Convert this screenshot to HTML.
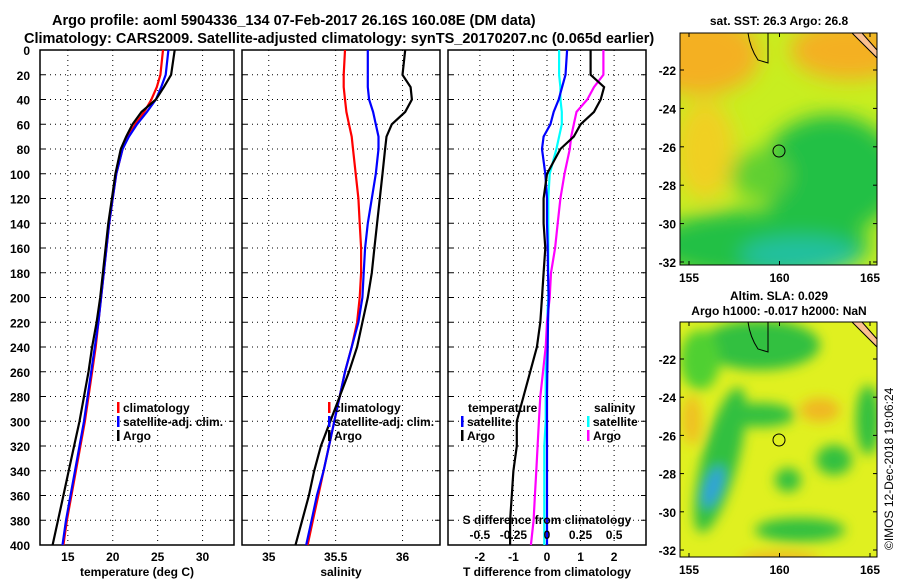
<!DOCTYPE html>
<html><head><meta charset="utf-8">
<style>
body{margin:0;background:#fff;}
svg text{font-family:"Liberation Sans",sans-serif;font-weight:bold;fill:#000;}
</style></head>
<body>
<svg id="fig" width="900" height="580" viewBox="0 0 900 580" xmlns="http://www.w3.org/2000/svg">
<defs>
<filter id="blur1" x="-50%" y="-50%" width="200%" height="200%"><feGaussianBlur stdDeviation="10"/></filter>
<filter id="blur2" x="-50%" y="-50%" width="200%" height="200%"><feGaussianBlur stdDeviation="6"/></filter>
<clipPath id="cm1"><rect x="680" y="33" width="197" height="232"/></clipPath>
<clipPath id="cm2"><rect x="680" y="322" width="197" height="235"/></clipPath>
</defs>
<text x="52" y="25" font-size="14.5">Argo profile: aoml 5904336_134 07-Feb-2017 26.16S 160.08E (DM data)</text>
<text x="24" y="43" font-size="14.5">Climatology: CARS2009. Satellite-adjusted climatology: synTS_20170207.nc (0.065d earlier)</text>

<g id="g1"></g>
<g id="g2"></g>
<g id="g3"></g>

<!-- SST map -->
<g clip-path="url(#cm1)">
<rect x="680" y="33" width="197" height="232" fill="#c8ee20"/>
<g filter="url(#blur1)">
<ellipse cx="700" cy="55" rx="60" ry="40" fill="#f4b020"/>
<ellipse cx="850" cy="50" rx="60" ry="30" fill="#f4b020"/>
<ellipse cx="705" cy="150" rx="30" ry="50" fill="#f0d020"/>
<ellipse cx="830" cy="175" rx="70" ry="60" fill="#22c044"/>
<ellipse cx="760" cy="245" rx="110" ry="35" fill="#22c044"/>
<ellipse cx="800" cy="255" rx="60" ry="18" fill="#20c0a0"/>
<ellipse cx="760" cy="175" rx="30" ry="25" fill="#60d030"/>
</g>
<circle cx="779" cy="151" r="6" fill="none" stroke="#000"/>
<path d="M748 33 Q750 48 758 60 L768 63 Q768 50 768 33" fill="none" stroke="#000" stroke-width="1"/>
<path d="M852 33 L877 58 L877 50 L862 33Z" fill="#fbc090" stroke="#000"/>
</g>
<rect x="680" y="33" width="197" height="232" fill="none" stroke="#000"/>

<!-- SLA map -->
<g clip-path="url(#cm2)">
<rect x="680" y="322" width="197" height="235" fill="#e0f020"/>
<g filter="url(#blur2)">
<ellipse cx="760" cy="345" rx="60" ry="25" fill="#30c040"/>
<ellipse cx="700" cy="360" rx="20" ry="30" fill="#50d030"/>
<ellipse cx="720" cy="460" rx="18" ry="75" fill="#30c040" transform="rotate(15 720 460)"/>
<ellipse cx="713" cy="487" rx="8" ry="22" fill="#30a0e0" transform="rotate(20 713 487)"/>
<ellipse cx="760" cy="415" rx="35" ry="12" fill="#30c040"/>
<ellipse cx="834" cy="460" rx="18" ry="15" fill="#30c040"/>
<ellipse cx="788" cy="480" rx="13" ry="12" fill="#30c040"/>
<ellipse cx="800" cy="530" rx="45" ry="12" fill="#30c040"/>
<ellipse cx="868" cy="420" rx="12" ry="35" fill="#30c040"/>
<ellipse cx="820" cy="410" rx="20" ry="12" fill="#f0b820"/>
<ellipse cx="692" cy="420" rx="10" ry="25" fill="#f0c020"/>
<ellipse cx="780" cy="560" rx="40" ry="8" fill="#f0b820"/>
</g>
<circle cx="779" cy="440" r="6" fill="none" stroke="#000"/>
<path d="M748 322 Q750 337 758 349 L768 352 Q768 339 768 322" fill="none" stroke="#000"/>
<path d="M852 322 L877 347 L877 339 L862 322Z" fill="#fbc090" stroke="#000"/>
</g>
<rect x="680" y="322" width="197" height="235" fill="none" stroke="#000"/>

<text x="779" y="25" font-size="12" text-anchor="middle">sat. SST: 26.3 Argo: 26.8</text>
<text x="779" y="300" font-size="12" text-anchor="middle">Altim. SLA: 0.029</text>
<text x="779" y="315" font-size="12" text-anchor="middle">Argo h1000: -0.017 h2000: NaN</text>
<text x="893" y="550" font-size="12" transform="rotate(-90 893 550)" style="font-weight:normal">©IMOS 12-Dec-2018 19:06:24</text>
<g id="maxes"></g>
</svg>
<script>
// ---- data ----
const depths = [0,20,30,40,50,60,70,80,100,120,140,160,180,200,220,240,260,280,300,320,340,360,380,400];
const tempArgo = [26.9,26.5,25.7,24.8,23.2,22.2,21.5,20.9,20.3,19.9,19.5,19.2,18.9,18.6,18.2,17.7,17.3,16.8,16.3,15.7,15.1,14.5,13.9,13.3];
const tempClim = [25.6,25.3,24.9,24.3,23.5,22.5,21.7,21.1,20.4,20.0,19.6,19.3,19.0,18.7,18.4,18.1,17.7,17.3,16.9,16.4,15.9,15.4,14.9,14.5];
const tempSat  = [26.2,25.9,25.4,24.8,23.8,22.7,21.8,21.1,20.4,20.0,19.6,19.3,19.0,18.7,18.4,18.0,17.6,17.2,16.8,16.3,15.8,15.3,14.8,14.4];
const salArgo = [36.02,36.0,36.06,36.07,36.02,35.92,35.88,35.87,35.85,35.83,35.81,35.79,35.77,35.74,35.7,35.66,35.6,35.53,35.46,35.39,35.34,35.3,35.25,35.2];
const salClim = [35.57,35.56,35.56,35.57,35.58,35.6,35.62,35.63,35.65,35.67,35.68,35.69,35.69,35.68,35.66,35.62,35.57,35.53,35.49,35.45,35.41,35.37,35.33,35.29];
const salSat  = [35.74,35.74,35.74,35.75,35.78,35.8,35.82,35.82,35.8,35.77,35.74,35.72,35.71,35.7,35.67,35.62,35.57,35.53,35.49,35.45,35.41,35.36,35.32,35.28];
const tdiffArgo = [1.3,1.3,1.7,1.6,1.4,1.0,0.8,0.4,0.0,-0.1,-0.1,-0.05,-0.1,-0.15,-0.2,-0.3,-0.5,-0.7,-0.9,-0.9,-1.0,-1.05,-1.1,-1.1];
const tdiffSat = [0.6,0.55,0.45,0.35,0.2,0.1,-0.1,-0.15,-0.05,0,0,0.02,0.03,0.05,0.03,0.02,0.01,0,0,0,0,0,0,0];
const sdiffArgo = [0.42,0.42,0.35,0.3,0.22,0.2,0.18,0.17,0.13,0.1,0.08,0.06,0.03,0.02,0,-0.01,-0.03,-0.05,-0.06,-0.07,-0.08,-0.09,-0.1,-0.12];
const sdiffSat = [0.09,0.09,0.1,0.1,0.11,0.11,0.09,0.07,0.02,0.01,0.01,0.01,0.01,0.01,0,0,-0.01,-0.01,-0.01,-0.02,-0.02,-0.02,-0.02,-0.02];
const depthTicks = [0,20,40,60,80,100,120,140,160,180,200,220,240,260,280,300,320,340,360,380,400];
const tempTicks = [15,20,25,30];
const salTicks = [35,35.5,36];
const tdTicks = [-2,-1,0,1,2];
const sdTicks = [-0.5,-0.25,0,0.25,0.5];
const lonTicks = [155,160,165];
const latTicks = [-22,-24,-26,-28,-30,-32];

const NS='http://www.w3.org/2000/svg';
function mk(tag,attrs,parent,txt){const e=document.createElementNS(NS,tag);for(const k in attrs)e.setAttribute(k,attrs[k]);if(txt!==undefined)e.textContent=txt;parent.appendChild(e);return e;}
const Y0=50,Y1=545;
const yS=d=>Y0+(d/400)*(Y1-Y0);

function panel(g,x0,x1,dom,ticks,fmt,xlabel,showY){
  const xS=v=>x0+(v-dom[0])/(dom[1]-dom[0])*(x1-x0);
  depthTicks.forEach(d=>{
    if(d>0&&d<400){const l=mk('line',{x1:x0,x2:x1,y1:yS(d),y2:yS(d),stroke:'#000','stroke-dasharray':'1,4','stroke-width':1},g);}
    mk('line',{x1:x0,x2:x0+5,y1:yS(d),y2:yS(d),stroke:'#000'},g);
    mk('line',{x1:x1,x2:x1-5,y1:yS(d),y2:yS(d),stroke:'#000'},g);
    if(showY){const t=mk('text',{x:x0-10,y:yS(d)+5,'font-size':12,'text-anchor':'end'},g,String(d));}
  });
  ticks.forEach(v=>{
    const l=mk('line',{x1:xS(v),x2:xS(v),y1:Y0,y2:Y1,stroke:'#000','stroke-dasharray':'1,4'},g);
    
    const t=mk('text',{x:xS(v),y:Y1+16,'font-size':12,'text-anchor':'middle'},g,fmt(v));
    
  });
  const r=mk('rect',{x:x0,y:Y0,width:x1-x0,height:Y1-Y0,fill:'none',stroke:'#000','stroke-width':1.5},g);
  
  const xl=mk('text',{x:(x0+x1)/2,y:576,'font-size':12,'text-anchor':'middle'},g,xlabel);
  
  return xS;
}
function line(g,xS,vals,color,name,w){
  const pts=vals.map((v,i)=>xS(v).toFixed(1)+','+yS(depths[i]).toFixed(1)).join(' ');
  const p=mk('polyline',{points:pts,fill:'none',stroke:color,'stroke-width':w||2.2},g);
  
}
function legend(g,x,y,color,label,name){
  mk('rect',{x:x,y:y-10,width:2.5,height:11,fill:color},g);
  const t=mk('text',{x:x+6,y:y,'font-size':12},g,label);
  
}
const g1=document.getElementById('g1'),g2=document.getElementById('g2'),g3=document.getElementById('g3');
const xT=panel(g1,40,234,[11.9,33.5],tempTicks,v=>String(v),'temperature (deg C)',true);
line(g1,xT,tempClim,'#f00','climatology-temp-line');
line(g1,xT,tempSat,'#00f','satellite-temp-line');
line(g1,xT,tempArgo,'#000','argo-temp-line');
legend(g1,117,412,'#f00','climatology','legend-climatology');
legend(g1,117,426,'#00f','satellite-adj. clim.','legend-satellite');
legend(g1,117,440,'#000','Argo','legend-argo');

const xSal=panel(g2,242,440,[34.8,36.28],salTicks,v=>String(v),'salinity',false);
line(g2,xSal,salClim,'#f00','climatology-sal-line');
line(g2,xSal,salSat,'#00f','satellite-sal-line');
line(g2,xSal,salArgo,'#000','argo-sal-line');
legend(g2,328,412,'#f00','climatology','legend-climatology');
legend(g2,328,426,'#00f','satellite-adj. clim.','legend-satellite');
legend(g2,328,440,'#000','Argo','legend-argo');

const xD=panel(g3,448,646,[-2.95,2.95],tdTicks,v=>String(v),'T difference from climatology',false);
line(g3,xD,sdiffSat.map(v=>v*4),'#0ff','satellite-sdiff-line');
line(g3,xD,sdiffArgo.map(v=>v*4),'#f0f','argo-sdiff-line');
line(g3,xD,tdiffSat,'#00f','satellite-tdiff-line');
line(g3,xD,tdiffArgo,'#000','argo-tdiff-line');
{const t=mk('text',{x:468,y:412,'font-size':12},g3,'temperature');}
legend(g3,461,426,'#00f','satellite','legend-temp-satellite');
legend(g3,461,440,'#000','Argo','legend-temp-argo');
{const t=mk('text',{x:594,y:412,'font-size':12},g3,'salinity');}
legend(g3,587,426,'#0ff','satellite','legend-sal-satellite');
legend(g3,587,440,'#f0f','Argo','legend-sal-argo');
{const t=mk('text',{x:547,y:524,'font-size':12,'text-anchor':'middle'},g3,'S difference from climatology');}
sdTicks.forEach(v=>{const t=mk('text',{x:xD(v*4),y:539,'font-size':12,'text-anchor':'middle'},g3,String(v));});

// map axes
const ma=document.getElementById('maxes');
const lonX=l=>689+(l-155)*18.1;
[[33,265,70,262],[322,557,359,550]].forEach(([top,bot,l22,l32])=>{
  lonTicks.forEach(l=>{
    mk('line',{x1:lonX(l),x2:lonX(l),y1:bot,y2:bot-4,stroke:'#000'},ma);
    mk('line',{x1:lonX(l),x2:lonX(l),y1:top,y2:top+4,stroke:'#000'},ma);
    const t=mk('text',{x:lonX(l),y:bot+17,'font-size':12,'text-anchor':'middle'},ma,String(l));
    
  });
  latTicks.forEach(la=>{
    const y=l22+(la+22)/(-10)*(l32-l22);
    mk('line',{x1:680,x2:684,y1:y,y2:y,stroke:'#000'},ma);
    mk('line',{x1:877,x2:873,y1:y,y2:y,stroke:'#000'},ma);
    const t=mk('text',{x:676,y:y+5,'font-size':12,'text-anchor':'end'},ma,String(la));
    
  });
});
</script>
</body></html>
